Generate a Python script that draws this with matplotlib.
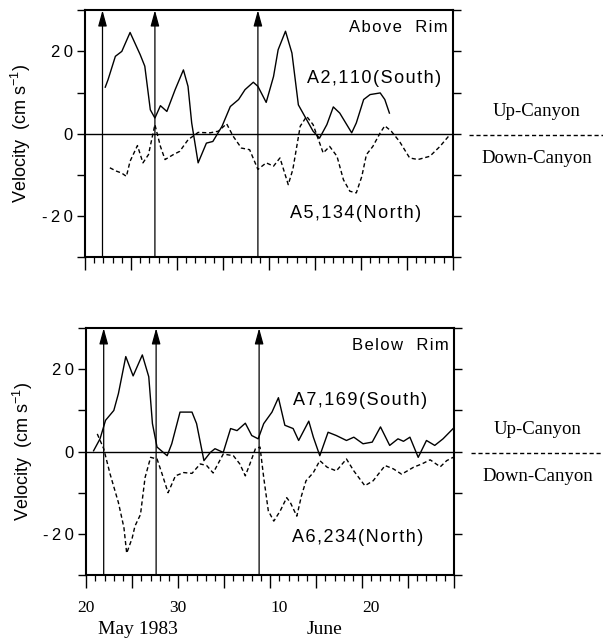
"""Above/below rim along-canyon velocity, May-June 1983."""

import matplotlib

matplotlib.use("Agg")
import matplotlib.pyplot as plt
import matplotlib.transforms as mtransforms
from matplotlib.ticker import MultipleLocator

# x is day counted from 1 May 1983 (so 1 June = 32)
A2_DAY = [22.2, 22.5, 23.3, 24.0, 24.9, 26.0, 26.5, 27.1, 27.6, 28.2, 28.9, 29.8,
          30.7, 31.2, 31.6, 32.3, 33.2, 33.9, 34.9, 35.8, 36.7, 37.4, 38.3, 38.8,
          39.7, 40.5, 41.0, 41.8, 42.5, 43.2, 43.7, 44.8, 45.5, 46.3, 47.0, 47.7,
          49.0, 49.5, 50.3, 51.0, 52.1, 52.6, 53.1]
A2_VEL = [11.3, 13.1, 18.8, 20.0, 24.6, 19.2, 16.4, 5.8, 3.8, 6.8, 5.4, 10.7,
          15.5, 11.5, 2.6, -7.1, -2.3, -1.9, 1.8, 6.6, 8.3, 10.7, 12.5, 11.5,
          7.6, 13.9, 20.4, 24.9, 19.6, 7.0, 5.0, 0.6, -1.1, 2.2, 6.5, 5.0,
          0.2, 2.6, 8.3, 9.5, 9.9, 8.3, 5.0]

A5_DAY = [22.7, 23.4, 24.0, 24.5, 24.9, 25.7, 26.3, 26.9, 27.6, 28.2, 28.7, 29.6,
          30.3, 31.2, 32.3, 33.6, 34.5, 35.4, 36.1, 37.0, 37.9, 38.8, 39.7, 40.5,
          41.2, 42.1, 42.6, 43.4, 44.1, 44.8, 45.9, 46.6, 47.4, 48.1, 48.8, 49.5,
          50.1, 50.6, 51.3, 52.1, 52.6, 53.3, 54.2, 55.3, 56.2, 57.5, 58.6, 59.7]
A5_VEL = [-8.3, -9.1, -9.6, -10.4, -6.7, -2.9, -7.1, -5.1, 2.2, -3.1, -6.3, -5.1,
          -4.3, -1.5, 0.3, 0.2, 0.6, 2.4, -0.6, -3.5, -3.9, -8.7, -7.1, -7.9,
          -5.9, -12.4, -8.7, 1.8, 4.2, 2.2, -4.7, -3.1, -5.5, -11.2, -14.0, -14.4,
          -10.4, -5.1, -3.1, 0.2, 1.9, 0.6, -1.9, -5.9, -6.3, -5.5, -3.1, -0.2]

A7_DAY = [20.8, 21.5, 22.1, 23.0, 23.5, 24.3, 25.1, 26.1, 26.8, 27.2, 27.7, 28.8,
          29.3, 30.2, 31.5, 32.0, 32.8, 33.5, 34.0, 34.9, 35.7, 36.4, 37.3, 38.0,
          38.7, 39.3, 40.2, 40.9, 41.6, 42.5, 43.1, 44.2, 44.7, 45.4, 46.3, 47.2,
          48.3, 49.1, 50.1, 51.1, 52.0, 53.0, 53.9, 54.5, 55.2, 56.1, 57.0, 57.9,
          58.8, 59.9]
A7_VEL = [0.2, 3.1, 7.6, 10.0, 14.1, 23.1, 18.4, 23.5, 18.2, 6.8, 1.1, -1.0,
          1.9, 9.6, 9.6, 6.8, -2.2, -0.2, 0.7, -0.2, 5.6, 5.1, 6.9, 3.9,
          3.1, 6.8, 9.6, 13.1, 6.4, 5.6, 2.7, 7.4, 3.5, -1.0, 4.7, 3.9,
          2.7, 3.5, 1.9, 2.3, 6.0, 1.5, 3.1, 2.5, 3.5, -1.4, 2.7, 1.5,
          3.1, 5.6]

A6_DAY = [21.2, 21.9, 22.6, 23.5, 24.1, 24.4, 25.0, 25.3, 25.9, 26.4, 27.0, 27.7,
          28.2, 28.9, 29.7, 30.6, 31.5, 32.4, 33.1, 33.8, 34.9, 36.0, 36.7, 37.3,
          37.8, 38.4, 38.9, 39.3, 39.8, 40.4, 41.1, 41.8, 42.2, 42.9, 43.4, 43.9,
          44.7, 45.4, 46.2, 47.2, 48.3, 49.1, 50.3, 51.2, 52.5, 53.4, 54.3, 55.6,
          56.5, 57.4, 58.5, 59.2, 59.9]
A6_VEL = [4.3, 0.7, -5.5, -12.4, -18.5, -24.7, -21.0, -18.1, -15.3, -6.3, -1.4, -1.8,
          -5.1, -10.0, -5.9, -5.1, -5.3, -3.0, -3.4, -5.2, -0.6, -1.0, -3.0, -5.9,
          -3.0, 0.7, 1.1, -6.3, -14.4, -16.9, -14.4, -11.2, -12.4, -15.7, -10.8, -7.1,
          -5.1, -2.2, -3.8, -4.7, -1.8, -4.7, -8.3, -7.1, -3.4, -4.2, -5.5, -3.8,
          -3.0, -2.0, -3.7, -2.2, -1.4]

EVENT_DAYS = [21.9, 27.6, 38.8]

XTICKS = [20, 30, 41, 51]
XTICK_LABELS = ["20", "30", "10", "20"]
YTICKS = [-20, 0, 20]
YTICK_LABELS = ["-\u20092\u20090", "0", "2\u20090"]

SANS = ["Liberation Sans", "DejaVu Sans"]
SERIF = "Liberation Serif"

PANELS = [
    ("Above  Rim", A2_DAY, A2_VEL, "A2,110(South)", A5_DAY, A5_VEL, "A5,134(North)",
     (44.1, 13.3), (42.3, -19.4)),
    ("Below  Rim", A7_DAY, A7_VEL, "A7,169(South)", A6_DAY, A6_VEL, "A6,234(North)",
     (42.5, 12.4), (42.4, -21.0)),
]


def spaced(text):
    # the original lettering is set loosely
    return "\u200a".join(text)


def draw_panel(ax, panel, show_xlabels):
    title, sx, sy, slabel, nx, ny, nlabel, spos, npos = panel
    ax.set_xlim(20, 60)
    ax.set_ylim(-30, 30)

    ax.axhline(0, color="black", lw=1.0)
    ax.plot(sx, sy, color="black", lw=1.0)
    ax.plot(nx, ny, color="black", lw=1.0, dashes=(3, 2))

    for day in EVENT_DAYS:
        ax.annotate(
            "", xy=(day, 30), xytext=(day, -30),
            arrowprops=dict(arrowstyle="-|>,head_length=0.8,head_width=0.22",
                            color="black", lw=0.9, shrinkA=0, shrinkB=0,
                            mutation_scale=12),
        )

    ax.text(0.985, 0.96, spaced(title), transform=ax.transAxes, ha="right",
            va="top", fontsize=12, family=SANS)
    ax.text(spos[0], spos[1], spaced(slabel), ha="left", va="center",
            fontsize=13, family=SANS)
    ax.text(npos[0], npos[1], spaced(nlabel), ha="left", va="center",
            fontsize=13, family=SANS)

    # y axis: labelled on the left, plain ticks on both sides
    ax.set_yticks(YTICKS)
    ax.set_yticklabels(YTICK_LABELS, family=SANS, fontsize=12)
    ax.yaxis.set_minor_locator(MultipleLocator(10))
    ax.tick_params(axis="y", which="both", direction="out", length=6, width=1.0,
                   left=True, right=True, pad=3)
    ax.set_ylabel("Velocity  (cm s$^{\\mathregular{-1}}$)", family=SANS, fontsize=13,
                  labelpad=6)

    # x axis: daily ticks, longer every 5 days
    ax.xaxis.set_major_locator(MultipleLocator(5))
    ax.xaxis.set_minor_locator(MultipleLocator(1))
    ax.tick_params(axis="x", which="major", direction="out", length=9, width=1.0,
                   labelbottom=False)
    ax.tick_params(axis="x", which="minor", direction="out", length=4, width=0.9)
    if show_xlabels:
        for pos, lab in zip(XTICKS, XTICK_LABELS):
            ax.text(pos, -36.0, lab, ha="center", va="top", fontsize=12.5,
                    family=SERIF)
        ax.text(25.6, -41.3, "May 1983", ha="center", va="top", fontsize=14,
                family=SERIF)
        ax.text(45.9, -41.3, "June", ha="center", va="top", fontsize=14,
                family=SERIF)

    for spine in ax.spines.values():
        spine.set_linewidth(1.5)

    # up/down canyon key to the right of the panel
    trans = mtransforms.blended_transform_factory(ax.transAxes, ax.transData)
    ax.plot([1.045, 1.41], [-0.4, -0.4], color="black", lw=1.0, dashes=(3, 2),
            transform=trans, clip_on=False)
    ax.text(1.228, 5.3, "Up-Canyon", transform=trans, ha="center", va="center",
            fontsize=13.5, family=SERIF)
    ax.text(1.228, -6.0, "Down-Canyon", transform=trans, ha="center", va="center",
            fontsize=13.5, family=SERIF)


def main():
    fig = plt.figure(figsize=(6.03, 6.41), dpi=100)
    ax_top = fig.add_axes([0.141, 0.599, 0.610, 0.385])
    ax_bot = fig.add_axes([0.143, 0.103, 0.610, 0.385])
    draw_panel(ax_top, PANELS[0], show_xlabels=False)
    draw_panel(ax_bot, PANELS[1], show_xlabels=True)
    fig.savefig("out.png", dpi=100)
    plt.close(fig)


if __name__ == "__main__":
    main()
